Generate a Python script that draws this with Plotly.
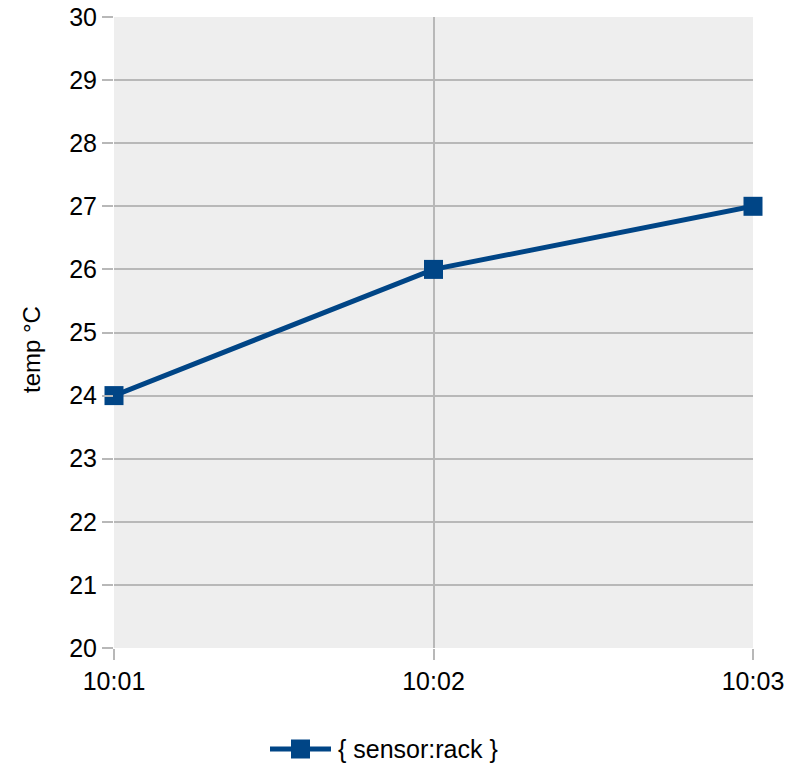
import plotly.graph_objects as go

times = ["10:01", "10:02", "10:03"]
temps = [24, 26, 27]
series_name = "{ sensor:rack }"
y_title = "temp °C"
y_ticks = list(range(20, 31))

BLUE = "#004586"
GRID = "#b8b8b8"
FONT = "Liberation Sans"

W, H = 806, 765
L, R, T, B = 114, 53, 17, 117
pw, ph = W - L - R, H - T - B

def px2x(px):
    return (px - L) / pw

def py2y(py):
    return (H - B - py) / ph

fig = go.Figure()
fig.add_trace(go.Scatter(
    x=times, y=temps, mode="lines+markers", name=series_name,
    line=dict(color=BLUE, width=5),
    marker=dict(symbol="square", size=19, color=BLUE),
    cliponaxis=False, showlegend=False,
))

# manual legend
ly = 749
fig.add_shape(type="line", xref="paper", yref="paper",
              x0=px2x(270), x1=px2x(331), y0=py2y(ly), y1=py2y(ly),
              line=dict(color=BLUE, width=5))
fig.add_shape(type="rect", xref="paper", yref="paper",
              x0=px2x(291), x1=px2x(310), y0=py2y(ly - 9.5), y1=py2y(ly + 9.5),
              line=dict(width=0), fillcolor=BLUE)
fig.add_annotation(text=series_name, xref="paper", yref="paper",
                   x=px2x(336), y=py2y(ly), xanchor="left", yanchor="middle",
                   showarrow=False, font=dict(size=25, color="#000000", family=FONT))

# y axis title
fig.add_annotation(text=y_title, xref="paper", yref="paper", textangle=-90,
                   x=px2x(31), y=py2y(350), xanchor="center", yanchor="middle",
                   showarrow=False, font=dict(size=24, color="#000000", family=FONT))

fig.update_layout(
    width=W, height=H,
    margin=dict(l=L, r=R, t=T, b=B, autoexpand=False),
    paper_bgcolor="#ffffff", plot_bgcolor="#eeeeee",
    font=dict(family=FONT, size=25, color="#000000"),
)
fig.update_xaxes(
    type="category", range=[0, len(times) - 1], automargin=False,
    showgrid=True, gridcolor=GRID, gridwidth=1.5,
    ticks="outside", ticklen=11, tickcolor=GRID, tickwidth=1.5,
    showline=False, zeroline=False,
    tickfont=dict(size=25, family=FONT),
)
fig.update_yaxes(
    range=[20, 30], tickvals=y_ticks, automargin=False,
    showgrid=True, gridcolor=GRID, gridwidth=1.5,
    ticks="outside", ticklen=11, tickcolor=GRID, tickwidth=1.5,
    showline=False, zeroline=False,
    tickfont=dict(size=25, family=FONT),
)

fig.write_html(
    "out.html",
    config={"displayModeBar": False},
    post_script="document.body.style.margin='0';document.body.style.padding='0';"
                "document.documentElement.style.overflow='hidden';",
)
